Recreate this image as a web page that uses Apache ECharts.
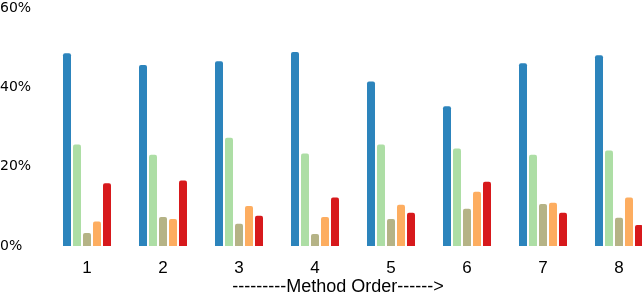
<!DOCTYPE html>
<html>
<head>
<meta charset="utf-8">
<script src="https://cdn.jsdelivr.net/npm/echarts@6/dist/echarts.min.js"></script>
<style>html,body{margin:0;padding:0;background:#fff;}#c{width:642px;height:296px;}</style>
</head>
<body>
<div id="c"></div>
<script>
const categories = ['1','2','3','4','5','6','7','8'];
const s1 = [48.6, 45.6, 46.6, 48.9, 41.5, 35.2, 46.1, 48.1];
const s2 = [25.6, 23.0, 27.3, 23.3, 25.6, 24.6, 23.0, 24.1];
const s3 = [3.3, 7.3, 5.6, 3.0, 6.8, 9.4, 10.6, 7.1];
const s4 = [6.2, 6.8, 10.1, 7.3, 10.4, 13.7, 10.9, 12.2];
const s5 = [15.8, 16.5, 7.6, 12.2, 8.4, 16.2, 8.4, 5.3];
const yTicks = [0, 20, 40, 60];
const xTitle = '---------Method Order------>';
const colors = ['#2c84bc', '#addea5', '#b5b386', '#fdad60', '#d7191c'];
const seriesData = [s1, s2, s3, s4, s5];

const chart = echarts.init(document.getElementById('c'), null, {renderer: 'canvas'});
chart.setOption({
  animation: false,
  grid: {left: 49, top: 8, width: 608, bottom: 50, containLabel: false, outerBoundsMode: 'none'},
  graphic: [{
    type: 'text',
    x: 338,
    y: 287,
    style: {text: xTitle, fill: '#000', font: '18px "Liberation Sans"', align: 'center', verticalAlign: 'middle'}
  }],
  xAxis: {
    type: 'category',
    data: categories,
    axisLine: {show: false},
    axisTick: {show: false},
    axisLabel: {color: '#000', fontFamily: 'Liberation Sans', fontSize: 17, margin: 14}
  },
  yAxis: {
    type: 'value',
    min: yTicks[0],
    max: yTicks[yTicks.length - 1],
    interval: 20,
    axisLine: {show: false},
    axisTick: {show: false},
    splitLine: {show: false},
    axisLabel: {color: '#000', fontFamily: 'DejaVu Sans', fontSize: 14, align: 'left', margin: 49, formatter: '{value}%'}
  },
  series: seriesData.map((d, i) => ({
    type: 'bar',
    data: d,
    barWidth: 8,
    barGap: '25%',
    itemStyle: {color: colors[i], borderRadius: [2, 2, 0, 0]}
  }))
});
</script>
</body>
</html>
